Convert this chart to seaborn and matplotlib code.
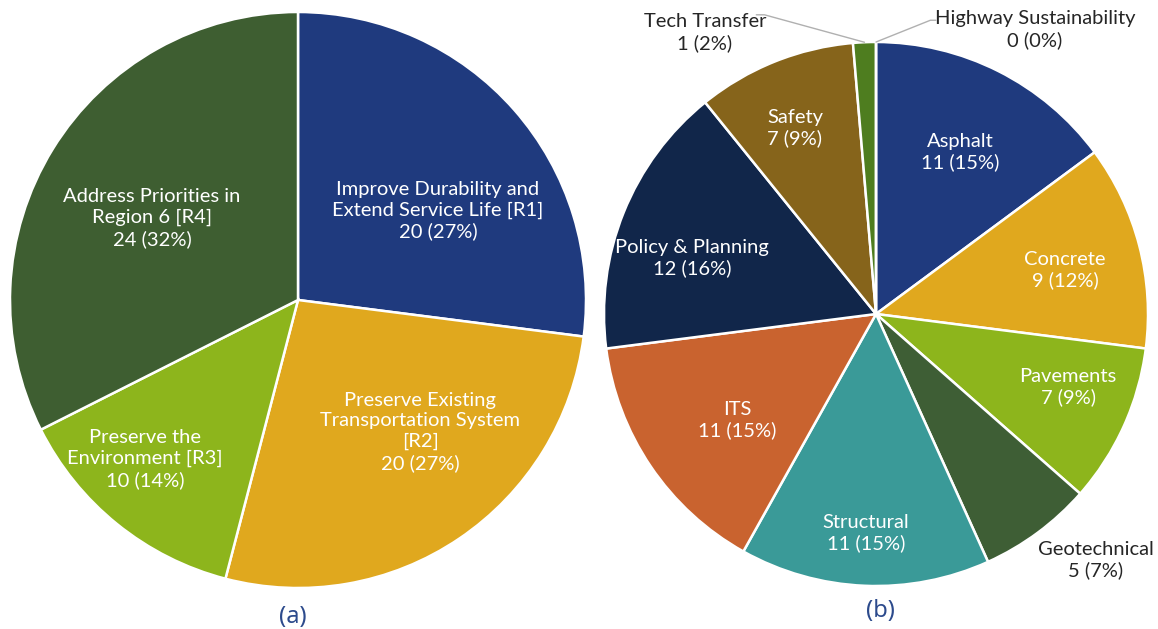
import matplotlib
matplotlib.use('Agg')
from matplotlib import pyplot as plt
import numpy as np
import seaborn as sns

sns.set_theme(style='white')
plt.rcParams['font.family'] = ['Lato', 'DejaVu Sans']

# (a) research goals
goal_labels = ['Improve Durability and\nExtend Service Life [R1]',
               'Preserve Existing\nTransportation System\n[R2]',
               'Preserve the\nEnvironment [R3]',
               'Address Priorities in\nRegion 6 [R4]']
goal_counts = [20, 20, 10, 24]
goal_pcts = [27, 27, 14, 32]
goal_colors = ['#1f3a7e', '#e0a81e', '#8db51c', '#3e5e31']

# (b) research areas
area_labels = ['Asphalt', 'Concrete', 'Pavements', 'Geotechnical', 'Structural',
               'ITS', 'Policy & Planning', 'Safety', 'Tech Transfer',
               'Highway Sustainability']
area_counts = [11, 9, 7, 5, 11, 11, 12, 7, 1, 0]
area_pcts = [15, 12, 9, 7, 15, 15, 16, 9, 2, 0]
area_colors = ['#1f3a7e', '#e0a81e', '#8db51c', '#3e5e35', '#3a9a98',
               '#c9632f', '#11264a', '#86641b', '#4e7d1f', '#8db51c']

# label placement (axes data units, pie radius = 1)
goal_pos = [(0.486, 0.31), (0.424, -0.458), (-0.531, -0.552), (-0.507, 0.285)]
area_pos = [(0.309, 0.596), (0.695, 0.162), (0.706, -0.268), (0.809, -0.904),
            (-0.037, -0.805), (-0.511, -0.39), (-0.676, 0.206), (-0.298, 0.684),
            (-0.629, 1.035), (0.585, 1.045)]
outside = {'Geotechnical', 'Tech Transfer', 'Highway Sustainability'}

fig = plt.figure(figsize=(11.58, 6.29), dpi=100)
ax1 = fig.add_axes([10 / 1158, 41 / 629, 576 / 1158, 576 / 629])
ax2 = fig.add_axes([604 / 1158, 43 / 629, 544 / 1158, 544 / 629])

fs = 14.5
wp = dict(edgecolor='white', linewidth=1.8)
ax1.pie(goal_counts, colors=goal_colors, startangle=90, counterclock=False,
        wedgeprops=wp, radius=1)
for lab, n, p, (x, y) in zip(goal_labels, goal_counts, goal_pcts, goal_pos):
    ax1.text(x, y, lab + '\n' + str(n) + ' (' + str(p) + '%)', color='white',
             fontsize=fs, ha='center', va='center', linespacing=1.25)

wedges, _ = ax2.pie(area_counts, colors=area_colors, startangle=90, counterclock=False,
                    wedgeprops=wp, radius=1)
for lab, n, p, (x, y) in zip(area_labels, area_counts, area_pcts, area_pos):
    col = '#262626' if lab in outside else 'white'
    ax2.text(x, y, lab + '\n' + str(n) + ' (' + str(p) + '%)', color=col,
             fontsize=fs, ha='center', va='center', linespacing=1.25)

# leader lines for the tiny slices
ang = np.deg2rad((wedges[8].theta1 + wedges[8].theta2) / 2)
ax2.plot([np.cos(ang), -0.41, -0.44], [np.sin(ang), 1.1, 1.1],
         color='#b0b0b0', lw=1, clip_on=False)
ang = np.deg2rad(wedges[9].theta1)
ax2.plot([np.cos(ang), 0.2, 0.22], [np.sin(ang), 1.08, 1.08],
         color='#b0b0b0', lw=1, clip_on=False)

for ax in (ax1, ax2):
    ax.set_xlim(-1, 1)
    ax.set_ylim(-1, 1)
    ax.set_aspect('equal')
    ax.axis('off')

fig.text(293 / 1158, 1 - 617 / 629, '(a)', color='#2c4a8c', fontsize=17,
         ha='center', va='center', family=['Noto Sans'])
fig.text(880 / 1158, 1 - 611 / 629, '(b)', color='#2c4a8c', fontsize=17,
         ha='center', va='center', family=['Noto Sans'])

plt.savefig('out.png', dpi=100)
